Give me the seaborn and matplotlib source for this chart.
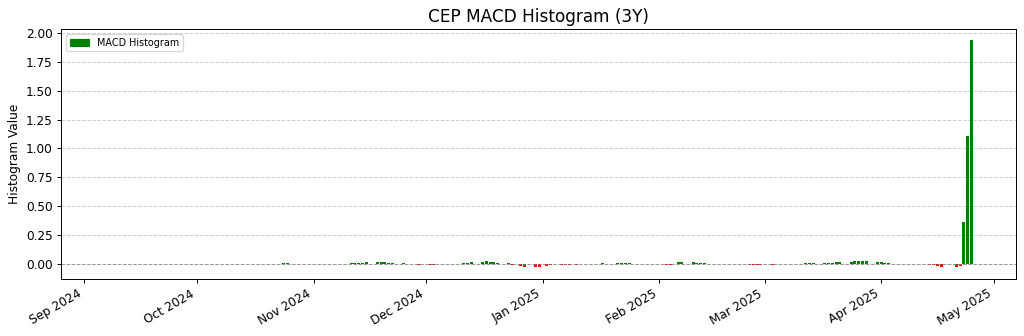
import numpy as np
import pandas as pd
import matplotlib
matplotlib.use("Agg")
import matplotlib.pyplot as plt
import matplotlib.dates as mdates
from matplotlib.patches import Patch
from matplotlib.ticker import MultipleLocator, FormatStrFormatter
import seaborn as sns

# ---- data -------------------------------------------------------------
start_date = "2024-09-06"
end_date = "2025-04-25"
market_holidays = ["2024-11-28", "2024-12-25", "2025-01-01", "2025-01-09",
                   "2025-01-20", "2025-02-17", "2025-04-18"]

# MACD histogram per trading day (first 33 days are warm-up -> NaN)
warmup_days = 33
hist_oct_nov = [0.002, 0.005, 0.005, 0.002, -0.001, -0.001, -0.001,          # Oct 23 - Oct 31
                -0.001, -0.001, -0.001, -0.001, 0.0005, 0.001,               # Nov 1 - Nov 8
                0.004, 0.006, 0.009, 0.011, 0.012, 0.013, 0.012, 0.013,      # Nov 11 - Nov 20
                0.011, 0.007, 0.004, -0.003, -0.004, -0.008]                 # Nov 21 - Nov 29
hist_dec = [-0.009, -0.006, -0.003, -0.001, -0.0005, 0.0005, 0.002,
            0.006, 0.011, 0.016, 0.020, 0.022, 0.019, 0.013, 0.009, 0.004,
            -0.012, -0.020, -0.025, -0.026, -0.024]
hist_jan = [-0.018, -0.014, -0.011, -0.009, -0.007, -0.006, -0.004, -0.003,
            -0.001, 0.003, 0.005, 0.005, 0.006, 0.005, 0.004, -0.002,
            -0.003, -0.003, -0.004, -0.004]
hist_feb = [-0.007, -0.006, -0.003, 0.014, 0.017, 0.015, 0.008, 0.006,
            0.005, 0.003, -0.002, -0.003, -0.004, -0.004, -0.005, -0.006,
            -0.007, -0.007, -0.007]
hist_mar = [-0.006, -0.004, -0.002, -0.001, -0.0005, 0.0005, 0.003, 0.004,
            0.005, 0.005, 0.005, 0.006, 0.011, 0.013, 0.012, 0.018, 0.022,
            0.024, 0.024, 0.023, 0.020]
hist_apr = [0.016, 0.011, 0.005, 0.003, 0.0005, -0.002, -0.003, -0.004,
            -0.003, -0.009, -0.014, -0.020, -0.024, -0.024, -0.017,
            0.36, 1.11, 1.936]

title = "CEP MACD Histogram (3Y)"
ylabel = "Histogram Value"
legend_label = "MACD Histogram"

# ---- build frame ------------------------------------------------------
dates = pd.bdate_range(start_date, end_date, freq="C", holidays=market_holidays)
values = ([np.nan] * warmup_days + hist_oct_nov + hist_dec + hist_jan
          + hist_feb + hist_mar + hist_apr)
n = min(len(dates), len(values))
df = pd.DataFrame({"date": dates[:n], "hist": values[:n]})
df["x"] = mdates.date2num(df["date"])
df = df.dropna()
pos = df[df["hist"] >= 0]
neg = df[df["hist"] < 0]

# ---- plot -------------------------------------------------------------
DPI = 87
fig, ax = plt.subplots(figsize=(1024 / DPI, 336 / DPI), dpi=DPI)
sns.barplot(data=pos, x="x", y="hist", native_scale=True, color="green",
            saturation=1, errorbar=None, ax=ax, width=0.8, linewidth=0)
sns.barplot(data=neg, x="x", y="hist", native_scale=True, color="red",
            saturation=1, errorbar=None, ax=ax, width=0.8, linewidth=0)

ax.axhline(0, color="gray", linestyle="--", linewidth=0.8, alpha=0.7)
ax.grid(axis="y", linestyle="--", alpha=0.6)
ax.grid(axis="x", visible=False)
ax.set_axisbelow(True)

ax.xaxis.set_major_locator(mdates.MonthLocator())
ax.xaxis.set_major_formatter(mdates.DateFormatter("%b %Y"))
ax.set_xlim(mdates.date2num(pd.Timestamp("2024-08-25 20:00")),
            mdates.date2num(pd.Timestamp("2025-05-06 20:00")))
ax.set_ylim(-0.13, 2.035)
ax.yaxis.set_major_locator(MultipleLocator(0.25))
ax.yaxis.set_major_formatter(FormatStrFormatter("%.2f"))
ax.set_xlabel("")
ax.set_ylabel(ylabel)
ax.set_title(title, fontsize=14)
for lab in ax.get_xticklabels():
    lab.set_rotation(30)
    lab.set_ha("right")

ax.legend(handles=[Patch(color="green", label=legend_label)],
          loc="upper left", fontsize=8)

fig.subplots_adjust(left=0.0596, right=0.992, top=0.914, bottom=0.17)
fig.savefig("out.png", dpi=DPI)
